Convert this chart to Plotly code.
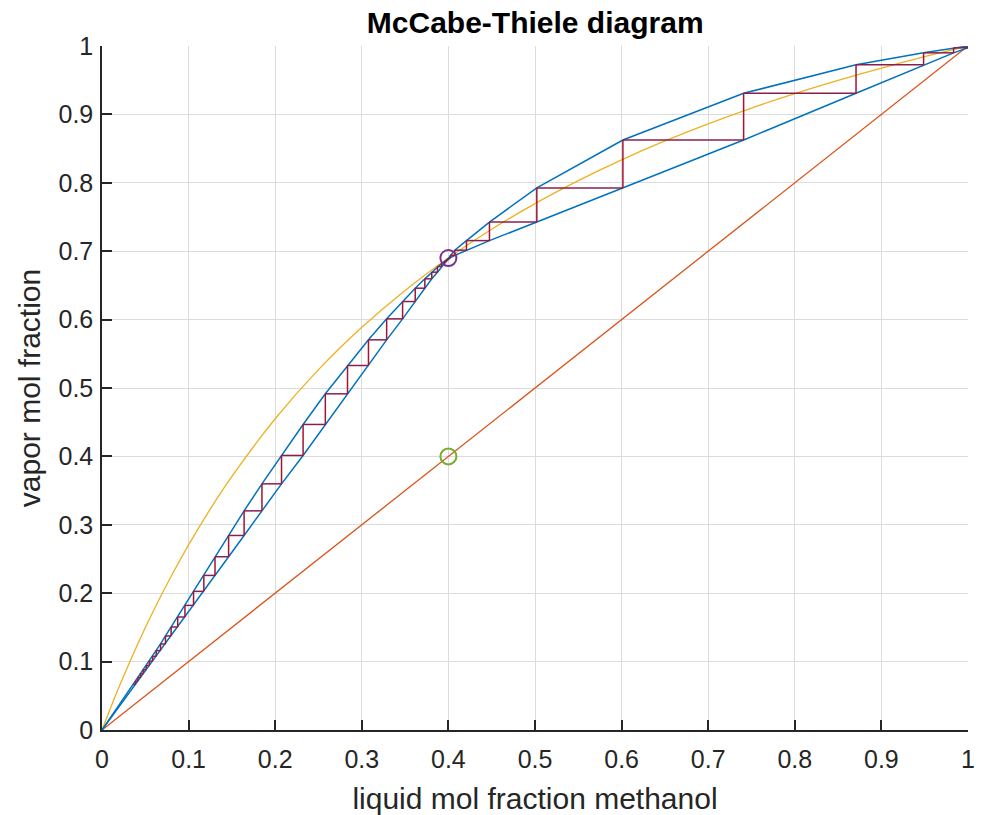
import plotly.graph_objects as go

# Equilibrium curve
eq_x = [0, 0.01, 0.02, 0.04, 0.06, 0.08, 0.10, 0.125, 0.15, 0.20, 0.25, 0.30, 0.35, 0.40,
        0.45, 0.50, 0.55, 0.60, 0.65, 0.70, 0.75, 0.80, 0.85, 0.90, 0.95, 1.0]
eq_y = [0, 0.0326, 0.0638, 0.1222, 0.1757, 0.2251, 0.2707, 0.3230, 0.3708, 0.4550, 0.5268,
        0.5887, 0.6427, 0.6901, 0.7321, 0.7696, 0.8032, 0.8336, 0.8612, 0.8863, 0.9093,
        0.9304, 0.9498, 0.9678, 0.9845, 1.0]

# Diagonal y = x
diag_x = [0, 1]
diag_y = [0, 1]

# Stage corner points (x_k, y_k)
stage_x = [0.0360, 0.0386, 0.0414, 0.0444, 0.0476, 0.0510, 0.0546, 0.0584, 0.0626, 0.0676,
           0.0733, 0.0798, 0.0874, 0.0958, 0.1057, 0.1176, 0.1305, 0.1462, 0.1641, 0.1847,
           0.2073, 0.2322, 0.2579, 0.2835, 0.3077, 0.3287, 0.3471, 0.3617, 0.3728, 0.3808,
           0.3874, 0.3920, 0.3954, 0.3975, 0.3990, 0.4000, 0.4008, 0.4024, 0.4073, 0.4209,
           0.4474, 0.5021, 0.6015, 0.7409, 0.8707, 0.9487, 0.9834, 1.0]
stage_y = [0.0666, 0.0714, 0.0766, 0.0821, 0.0880, 0.0942, 0.1007, 0.1078, 0.1161, 0.1258,
           0.1375, 0.1506, 0.1652, 0.1822, 0.2027, 0.2260, 0.2533, 0.2844, 0.3204, 0.3599,
           0.4014, 0.4467, 0.4915, 0.5329, 0.5704, 0.6011, 0.6264, 0.6459, 0.6596, 0.6693,
           0.6776, 0.6820, 0.6850, 0.6870, 0.6885, 0.6895, 0.6905, 0.6938, 0.7015, 0.7155,
           0.7426, 0.7925, 0.8626, 0.9309, 0.9725, 0.9900, 0.9974, 1.0]

# Marked points
pinch_x, pinch_y = [0.4], [0.69]
feed_x, feed_y = [0.4], [0.4]

BLUE = "#0072BD"
ORANGE = "#D95319"
YELLOW = "#EDB120"
PURPLE = "#7E2F8E"
GREEN = "#77AC30"
RED = "#A2142F"
AX = "#262626"
FONT = "Liberation Sans, Arial"

# Upper and lower stage lines
upper_x = [0] + stage_x
upper_y = [0] + stage_y
lower_x = [0] + stage_x[1:] + [1]
lower_y = [0] + stage_y[:-1] + [1]

# Staircase segments
hx, hy, vx, vy = [], [], [], []
n = len(stage_x)
for k in range(n - 1):
    hx += [stage_x[k], stage_x[k + 1], None]
    hy += [stage_y[k], stage_y[k], None]
    vx += [stage_x[k + 1], stage_x[k + 1], None]
    vy += [stage_y[k], stage_y[k + 1], None]

fig = go.Figure()
fig.add_trace(go.Scatter(x=eq_x, y=eq_y, mode="lines", line=dict(color=YELLOW, width=1.3, shape="spline")))
fig.add_trace(go.Scatter(x=diag_x, y=diag_y, mode="lines", line=dict(color=ORANGE, width=1.3)))
fig.add_trace(go.Scatter(x=upper_x, y=upper_y, mode="lines", line=dict(color=BLUE, width=1.5)))
fig.add_trace(go.Scatter(x=lower_x, y=lower_y, mode="lines", line=dict(color=BLUE, width=1.5)))
fig.add_trace(go.Scatter(x=hx, y=hy, mode="lines", line=dict(color="#8A1F4C", width=1.5)))
fig.add_trace(go.Scatter(x=vx, y=vy, mode="lines", line=dict(color=RED, width=1.5)))
fig.add_trace(go.Scatter(x=pinch_x, y=pinch_y, mode="markers",
                         marker=dict(symbol="circle-open", size=16, color=PURPLE, line=dict(width=2, color=PURPLE))))
fig.add_trace(go.Scatter(x=feed_x, y=feed_y, mode="markers",
                         marker=dict(symbol="circle-open", size=16, color=GREEN, line=dict(width=2, color=GREEN))))

tickvals = [0, 0.1, 0.2, 0.3, 0.4, 0.5, 0.6, 0.7, 0.8, 0.9, 1]
ticktext = ["0", "0.1", "0.2", "0.3", "0.4", "0.5", "0.6", "0.7", "0.8", "0.9", "1"]

axis_common = dict(
    range=[0, 1], tickvals=tickvals, ticktext=ticktext,
    showgrid=True, gridcolor="#dcdcdc", gridwidth=1,
    showline=True, linecolor=AX, linewidth=1.5,
    ticks="inside", ticklen=10, tickwidth=1.5, tickcolor=AX,
    tickfont=dict(family=FONT, size=25, color=AX),
    zeroline=False, mirror=False, automargin=False,
)

fig.update_layout(
    width=982, height=815,
    margin=dict(l=102, r=14, t=46, b=85),
    plot_bgcolor="white", paper_bgcolor="white",
    showlegend=False,
    title=dict(text="<b>McCabe-Thiele diagram</b>", x=0.545, xanchor="center", y=0.973, yanchor="middle",
               font=dict(family=FONT, size=30, color="black")),
    xaxis=dict(axis_common, ticklabelstandoff=6,
               title=dict(text="liquid mol fraction methanol",
                          font=dict(family=FONT, size=30, color=AX), standoff=20)),
    yaxis=dict(axis_common, ticklabelstandoff=2,
               title=dict(text="vapor mol fraction",
                          font=dict(family=FONT, size=30, color=AX), standoff=9)),
)

fig.write_html("out.html")
